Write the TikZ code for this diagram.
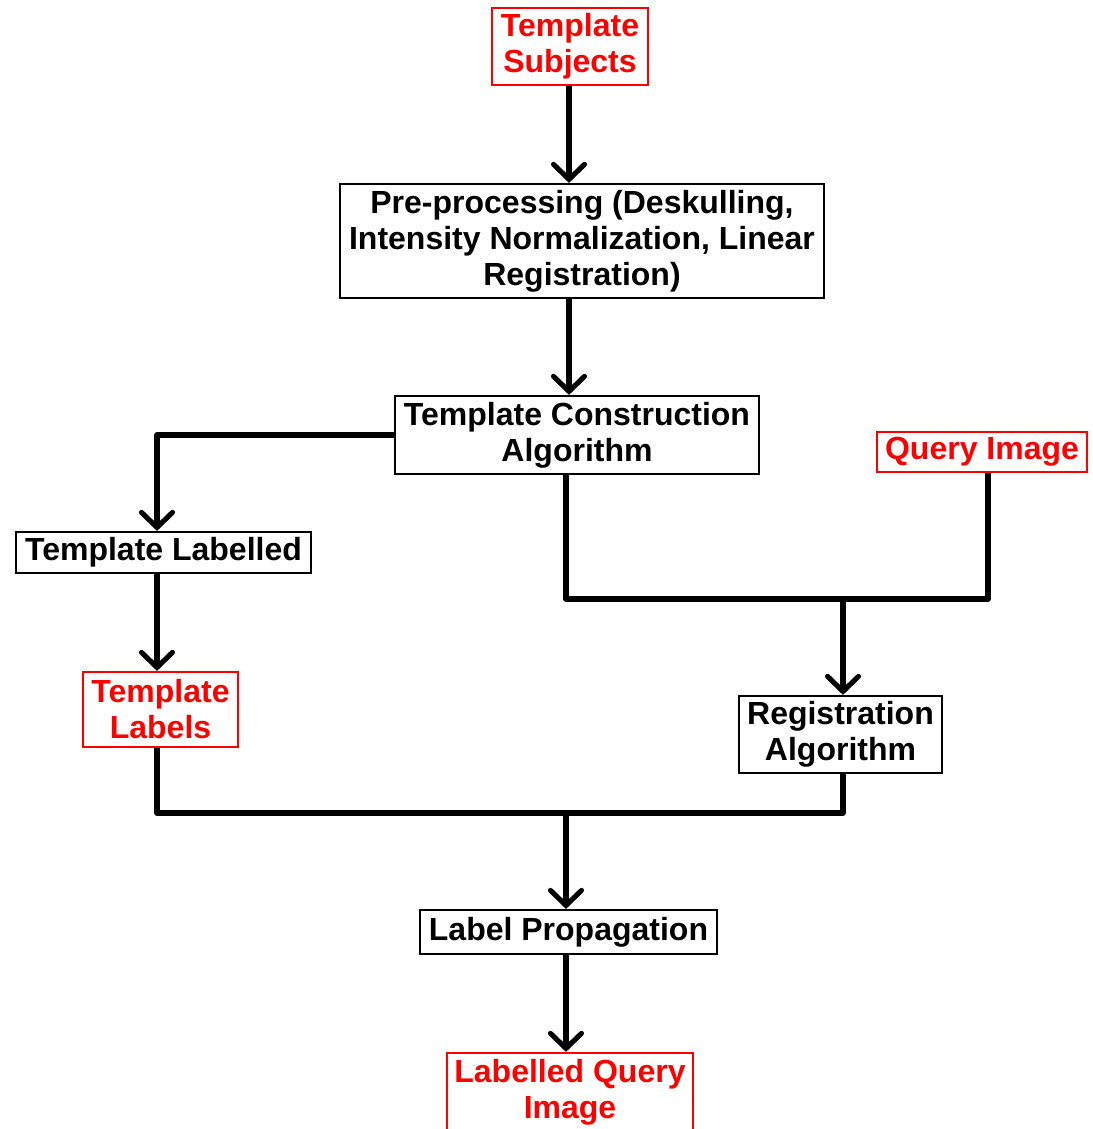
\documentclass[tikz,border=0pt]{standalone}
\usepackage{fontspec}
\setmainfont{Liberation Sans}
\usetikzlibrary{arrows.meta}
\begin{document}
\begin{tikzpicture}[x=0.01cm, y=-0.01cm,
    box/.style={draw=black, line width=0.6pt, align=center, inner sep=0pt,
        font=\fontsize{9.1pt}{10.25pt}\selectfont\bfseries},
    redbox/.style={box, draw=red, text=red},
    link/.style={line width=1.45pt, line join=round},
    flow/.style={link, -{Straight Barb[length=1.5mm, width=3.1mm, line cap=round]}}]
    \useasboundingbox (0, 0) rectangle (1093, 1129);

    \node[redbox, minimum width=1.56cm, minimum height=0.77cm] (subj) at (570, 46.5) {Template\\Subjects};
    \node[box, minimum width=4.84cm, minimum height=1.14cm] (prep) at (582, 241) {Pre-processing (Deskulling,\\Intensity Normalization, Linear\\Registration)};
    \node[box, minimum width=3.64cm, minimum height=0.78cm] (tca) at (577, 435) {Template Construction\\Algorithm};
    \node[box, minimum width=2.95cm, minimum height=0.41cm] (tlab) at (163.5, 552.5) {Template Labelled};
    \node[redbox, minimum width=1.55cm, minimum height=0.75cm] (tlabels) at (160.5, 709.5) {Template\\Labels};
    \node[redbox, minimum width=2.10cm, minimum height=0.40cm] (query) at (982, 452) {Query Image};
    \node[box, minimum width=2.03cm, minimum height=0.77cm] (reg) at (840.5, 734.5) {Registration\\Algorithm};
    \node[box, minimum width=2.97cm, minimum height=0.44cm] (prop) at (568.5, 932) {Label Propagation};
    \node[redbox, minimum width=2.46cm, minimum height=0.78cm] (out) at (570, 1092) {Labelled Query\\Image};

    \coordinate (lcol) at (157, 0);
    \coordinate (mcol) at (566, 0);
    \coordinate (qcol) at (988, 0);
    \coordinate (rjoin) at (843, 599);
    \coordinate (pjoin) at (566, 813);

    \draw[flow] (subj.south -| 569, 0) -- (prep.north -| 569, 0);
    \draw[flow] (prep.south -| 569, 0) -- (tca.north -| 569, 0);
    \draw[flow] (tca.west) -| (lcol |- tlab.north);
    \draw[flow] (lcol |- tlab.south) -- (lcol |- tlabels.north);
    \draw[link] (mcol |- tca.south) -- (mcol |- rjoin) -- (qcol |- rjoin) -- (qcol |- query.south);
    \draw[flow] (rjoin) -- (rjoin |- reg.north);
    \draw[link] (lcol |- tlabels.south) -- (lcol |- pjoin) -- (rjoin |- pjoin) -- (rjoin |- reg.south);
    \draw[flow] (pjoin) -- (pjoin |- prop.north);
    \draw[flow] (pjoin |- prop.south) -- (pjoin |- out.north);
\end{tikzpicture}
\end{document}
